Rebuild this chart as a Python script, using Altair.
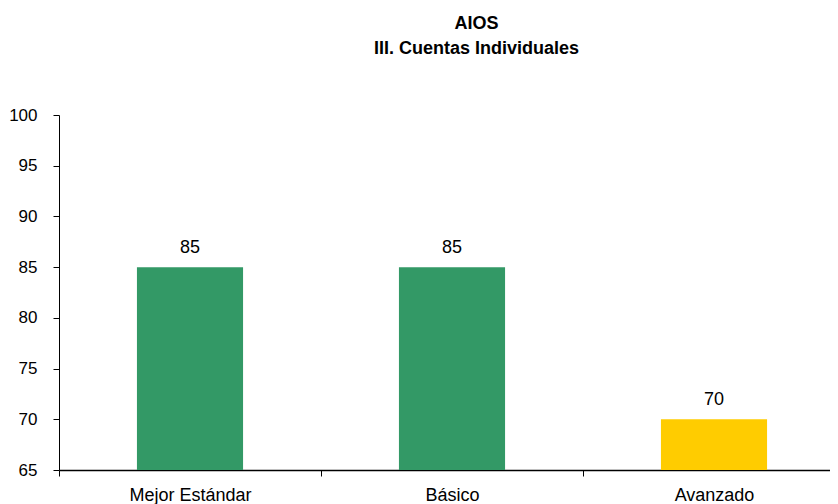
import altair as alt
import pandas as pd

categories = ["Mejor Estándar", "Básico", "Avanzado"]
values = [85, 85, 70]
colors = ["#339966", "#339966", "#FFCC00"]
y_ticks = [65, 70, 75, 80, 85, 90, 95, 100]

df = pd.DataFrame({"cat": categories, "val": values, "color": colors})

FONT = "Liberation Sans"

x = alt.X("cat:N", sort=categories, title=None,
          scale=alt.Scale(paddingInner=0, paddingOuter=0, range=[0, 786]),
          axis=alt.Axis(labelAngle=0, tickBand="extent", domainColor="black",
                        domainWidth=1.5, tickColor="black", tickSize=6,
                        labelPadding=10, labelFont=FONT, labelFontSize=18,
                        labelColor="black"))
y = alt.Y("val:Q", title=None,
          scale=alt.Scale(domain=[65, 100], nice=False, zero=False),
          axis=alt.Axis(values=y_ticks, grid=False, domainColor="black",
                        tickColor="black", tickSize=6, labelPadding=16,
                        labelFont=FONT, labelFontSize=17, labelColor="black"))

bars = alt.Chart(df).mark_bar(width=alt.RelativeBandSize(0.405), clip=True).encode(
    x=x, y=y, color=alt.Color("color:N", scale=None)
)
labels = alt.Chart(df).mark_text(dy=-19, font=FONT, fontSize=18, color="black").encode(
    x=x, y=y, text=alt.Text("val:Q")
)

chart = alt.layer(bars, labels).properties(
    width=771, height=355,
    title=alt.TitleParams(["AIOS", "III. Cuentas Individuales"], font=FONT,
                          fontSize=18, fontWeight="bold", color="black",
                          lineHeight=25, anchor="middle", dx=32, offset=48),
    autosize=alt.AutoSizeParams(type="none"),
    padding={"left": 51, "top": 107, "right": 0, "bottom": 34},
).configure_view(stroke=None)

chart.save("out.html", embed_options={"renderer": "svg", "actions": False})
